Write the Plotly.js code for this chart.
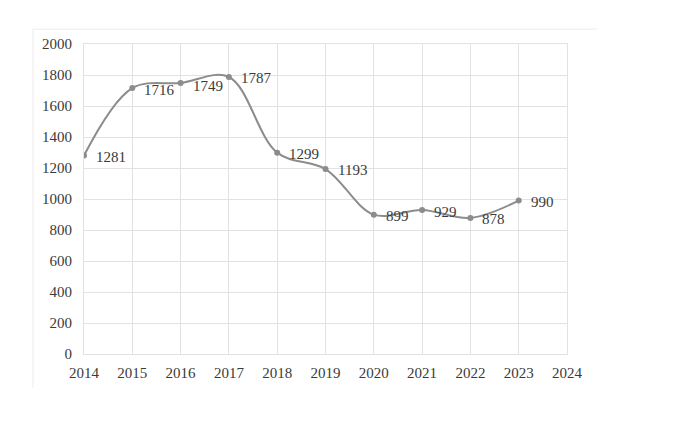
<!DOCTYPE html>
<html><head><meta charset="utf-8">
<script src="https://cdn.plot.ly/plotly-3.0.1.min.js"></script>
<style>html,body{margin:0;padding:0;background:#fff}#chart{width:676px;height:442px}</style>
</head><body><div id="chart"></div>
<script>
const years = [2014, 2015, 2016, 2017, 2018, 2019, 2020, 2021, 2022, 2023];
const values = [1281, 1716, 1749, 1787, 1299, 1193, 899, 929, 878, 990];
const labelYShift = [-2, -2, -3, -1, -1, -1, -1, -2, -1, -1];

const font = {family: 'Liberation Serif, Times New Roman, serif', size: 15, color: '#3a3a3a'};
const grid = '#e2e2e2';

const trace = {
  x: years, y: values, type: 'scatter', mode: 'lines+markers',
  line: {color: '#8c8c8c', width: 2, shape: 'spline', smoothing: 1},
  marker: {color: '#8c8c8c', size: 6},
  hoverinfo: 'skip'
};

const annotations = years.map((yr, i) => ({
  x: yr, y: values[i], xref: 'x', yref: 'y', text: String(values[i]),
  showarrow: false, xanchor: 'left', yanchor: 'middle', xshift: 10, yshift: labelYShift[i],
  font: font
}));

const layout = {
  width: 676, height: 442,
  margin: {l: 84, r: 109, t: 44, b: 88},
  paper_bgcolor: '#fff', plot_bgcolor: '#fff',
  showlegend: false,
  font: font,
  xaxis: {range: [2014, 2024], dtick: 1, tick0: 2014, showgrid: true, gridcolor: grid, gridwidth: 1,
          zeroline: false, showline: true, linecolor: grid, mirror: true, ticks: '', tickfont: font,
          ticklabelstandoff: 5, fixedrange: true},
  yaxis: {range: [0, 2000], dtick: 200, tick0: 0, showgrid: true, gridcolor: grid, gridwidth: 1,
          zeroline: false, showline: true, linecolor: grid, mirror: true, ticks: '', tickfont: font,
          ticklabelstandoff: 8, fixedrange: true},
  annotations: annotations,
  shapes: [
    {type: 'line', xref: 'paper', yref: 'paper', x0: -0.1056, x1: -0.1056, y0: 1.048, y1: -0.11,
     line: {color: '#ececec', width: 1}},
    {type: 'line', xref: 'paper', yref: 'paper', x0: -0.1056, x1: 1.062, y0: 1.048, y1: 1.048,
     line: {color: '#ececec', width: 1}}
  ]
};

Plotly.newPlot('chart', [trace], layout, {staticPlot: true, displayModeBar: false});
</script></body></html>
